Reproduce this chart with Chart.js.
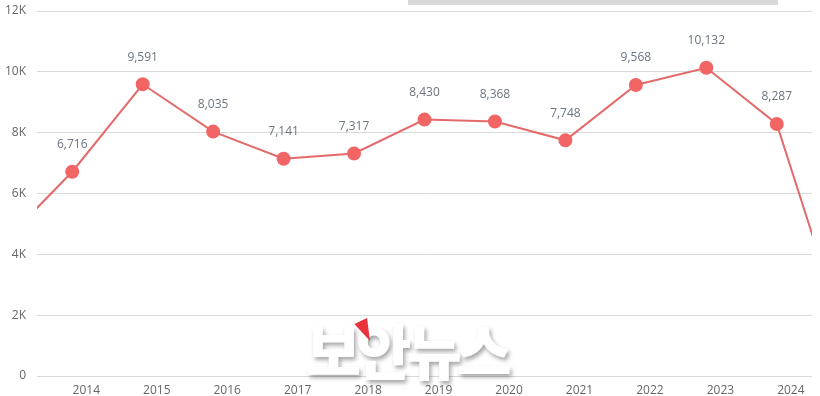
<!DOCTYPE html>
<html>
<head>
<meta charset="utf-8">
<script src="https://cdn.jsdelivr.net/npm/chart.js@4/dist/chart.umd.min.js"></script>
<style>
  html, body { margin: 0; padding: 0; background: #ffffff; }
  #wrap { position: relative; width: 820px; height: 396px; }
  #c { position: absolute; left: 0; top: 0; }
  #scrollbar { position: absolute; left: 408px; top: 0; width: 370px; height: 5px; background: #d9d9d9; }
  #wm { position: absolute; left: 306px; top: 314px; font-family: "Noto Sans CJK KR", sans-serif; font-weight: 900;
        font-size: 60px; line-height: 70px; color: #ffffff; letter-spacing: -5px;
        text-shadow: 2px 3px 4px rgba(0,0,0,0.35); white-space: nowrap; }
  #tri { position: absolute; left: 363px; top: 319px; width: 0; height: 0;
         border-left: 7px solid transparent; border-right: 7px solid transparent;
         border-top: 22px solid #e8323c; transform: rotate(-25deg); transform-origin: 50% 100%; }
</style>
</head>
<body>
<div id="wrap">
  <canvas id="c" width="820" height="396"></canvas>
  <div id="scrollbar"></div>
  <div id="wm">보안뉴스</div>
  <div id="tri"></div>
</div>
<script>
// Years (2013 and 2025 lie just outside the visible window and are clipped)
const years = [2013, 2014, 2015, 2016, 2017, 2018, 2019, 2020, 2021, 2022, 2023, 2024, 2025];
const counts = [4330, 6716, 9591, 8035, 7141, 7317, 8430, 8368, 7748, 9568, 10132, 8287, 1070];
const yearLabels = [2014, 2015, 2016, 2017, 2018, 2019, 2020, 2021, 2022, 2023, 2024];
const yTicks = [0, 2000, 4000, 6000, 8000, 10000, 12000];
const yTickLabels = ['0', '2K', '4K', '6K', '8K', '10K', '12K'];

const FONT = '"Open Sans", "DejaVu Sans", sans-serif';

const valueLabels = {
  id: 'valueLabels',
  afterDatasetsDraw(chart) {
    const ctx = chart.ctx;
    const area = chart.chartArea;
    const meta = chart.getDatasetMeta(0);
    ctx.save();
    ctx.font = '12px ' + FONT;
    ctx.fillStyle = '#6b7480';
    ctx.textAlign = 'center';
    ctx.textBaseline = 'middle';
    meta.data.forEach((pt, i) => {
      if (pt.x < area.left || pt.x > area.right) return;
      ctx.fillText(counts[i].toLocaleString('en-US'), pt.x, pt.y - 27);
    });
    ctx.restore();
  }
};

new Chart(document.getElementById('c'), {
  type: 'line',
  data: {
    datasets: [{
      data: years.map((y, i) => ({ x: y, y: counts[i] })),
      borderColor: '#e46a6a',
      borderWidth: 2,
      pointBackgroundColor: '#f26565',
      pointBorderColor: '#f26565',
      pointRadius: 6,
      pointHoverRadius: 6,
      tension: 0,
      clip: 0
    }]
  },
  options: {
    responsive: false,
    animation: false,
    events: [],
    layout: { padding: { top: 11, right: 8, left: 0, bottom: 0 } },
    plugins: { legend: { display: false }, tooltip: { enabled: false } },
    scales: {
      x: {
        type: 'linear',
        min: 2013.5,
        max: 2024.5,
        display: false
      },
      xLabels: {
        type: 'linear',
        position: 'bottom',
        min: 2013.3,
        max: 2024.3,
        afterBuildTicks(scale) {
          scale.ticks = yearLabels.map(v => ({ value: v }));
        },
        ticks: {
          autoSkip: false,
          maxRotation: 0,
          padding: 7,
          color: '#666666',
          font: { family: FONT, size: 12 },
          callback: v => String(v)
        },
        grid: { display: false, drawTicks: false },
        border: { display: false },
        afterFit(scale) { scale.height = 20; scale.paddingLeft = 0; scale.paddingRight = 0; }
      },
      y: {
        min: 0,
        max: 12000,
        afterBuildTicks(scale) {
          scale.ticks = yTicks.map(v => ({ value: v }));
        },
        ticks: {
          padding: 11,
          color: '#666666',
          font: { family: FONT, size: 12 },
          callback: (v) => yTickLabels[yTicks.indexOf(v)]
        },
        grid: { color: '#d9d9d9', drawTicks: false, lineWidth: 1 },
        border: { display: false },
        afterFit(scale) { scale.width = 37; scale.paddingTop = 0; scale.paddingBottom = 0; }
      }
    }
  },
  plugins: [valueLabels]
});
</script>
</body>
</html>
